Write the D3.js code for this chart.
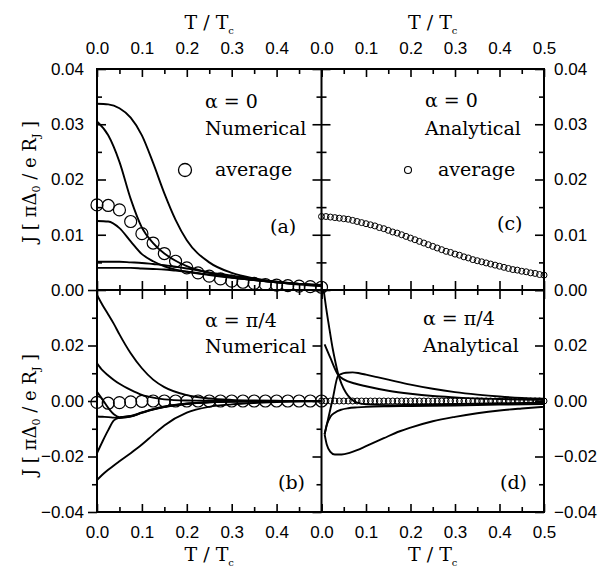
<!DOCTYPE html>
<html><head><meta charset="utf-8">
<script src="https://cdn.jsdelivr.net/npm/d3@7"></script>
<style>body{margin:0;background:#fff} svg{display:block}</style>
</head><body><svg id="c" width="603" height="578"></svg>
<script>
// ---------- data ----------
const xTickLabelsLeft = [0, 0.1, 0.2, 0.3, 0.4];
const xTickLabelsRight = [0, 0.1, 0.2, 0.3, 0.4, 0.5];
const yTickLabelsTop = [0, 0.01, 0.02, 0.03, 0.04];
const yTickLabelsBottom = [-0.04, -0.02, 0, 0.02];

// panel (a): alpha = 0, numerical
const tA = [0, 0.025, 0.05, 0.075, 0.1, 0.125, 0.15, 0.175, 0.2, 0.25, 0.3, 0.35, 0.4, 0.45, 0.5];
const a1 = [0.0337, 0.0336, 0.0329, 0.0312, 0.0280, 0.0230, 0.0175, 0.0127, 0.0090, 0.0050, 0.0031, 0.0021, 0.0015, 0.0011, 0.0008];
const a2 = [0.0305, 0.0280, 0.0232, 0.0165, 0.0113, 0.0085, 0.0066, 0.0053, 0.0043, 0.0031, 0.0023, 0.0018, 0.0014, 0.0011, 0.0009];
const a3 = [0.0125, 0.0124, 0.0112, 0.0088, 0.0065, 0.0052, 0.0043, 0.0037, 0.0033, 0.0027, 0.0022, 0.0018, 0.0014, 0.0011, 0.0009];
const a4 = [0.0051, 0.0051, 0.0051, 0.0050, 0.0049, 0.0047, 0.0045, 0.0042, 0.0039, 0.0032, 0.0026, 0.0020, 0.0015, 0.0011, 0.0008];
const a5 = [0.0040, 0.0040, 0.0040, 0.0040, 0.0039, 0.0038, 0.0037, 0.0035, 0.0033, 0.0028, 0.0023, 0.0018, 0.0014, 0.0010, 0.0007];
const avgNumT = [0, 0.025, 0.05, 0.075, 0.1, 0.125, 0.15, 0.175, 0.2, 0.225, 0.25, 0.275, 0.3, 0.325, 0.35, 0.375, 0.4, 0.425, 0.45, 0.475, 0.5];
const aAvg = [0.0154, 0.0153, 0.0145, 0.0124, 0.0102, 0.0085, 0.0066, 0.0052, 0.0040, 0.0031, 0.0025, 0.0020, 0.0016, 0.0014, 0.0012, 0.0010, 0.0009, 0.0008, 0.0007, 0.0006, 0.0005];

// panel (b): alpha = pi/4, numerical
const tB = [0, 0.0125, 0.025, 0.0375, 0.05, 0.075, 0.1, 0.125, 0.15, 0.2, 0.25, 0.3, 0.35, 0.4, 0.45, 0.5];
const b1 = [0.0382, 0.0345, 0.0312, 0.0278, 0.0240, 0.0172, 0.0118, 0.0077, 0.0050, 0.0021, 0.0009, 0.0004, 0.0002, 0.0001, 0.0000, 0.0000];
const b2 = [0.0136, 0.0110, 0.0092, 0.0076, 0.0062, 0.0040, 0.0022, 0.0012, 0.0006, 0.0002, 0.0001, 0.0000, 0.0000, 0.0000, 0.0000, 0.0000];
const b3 = [0.0033, 0.0005, -0.0025, -0.0048, -0.0058, -0.0055, -0.0042, -0.0030, -0.0021, -0.0010, -0.0005, -0.0002, -0.0001, 0.0000, 0.0000, 0.0000];
const b4 = [-0.0056, -0.0057, -0.0058, -0.0060, -0.0061, -0.0056, -0.0043, -0.0031, -0.0022, -0.0011, -0.0005, -0.0002, -0.0001, 0.0000, 0.0000, 0.0000];
const b5 = [-0.0188, -0.0145, -0.0105, -0.0070, -0.0060, -0.0054, -0.0041, -0.0029, -0.0020, -0.0009, -0.0004, -0.0002, -0.0001, 0.0000, 0.0000, 0.0000];
const b6 = [-0.0285, -0.0265, -0.0248, -0.0232, -0.0217, -0.0188, -0.0157, -0.0122, -0.0088, -0.0042, -0.0021, -0.0012, -0.0007, -0.0004, -0.0002, -0.0001];
const bAvg = [-0.0005, -0.0008, -0.0006, -0.0003, -0.0001, 0, 0, 0, 0, 0, 0, 0, 0, 0, 0, 0, 0, 0, 0, 0, 0];

// panels (c), (d): analytical averages
const avgAnaT = [0, 0.01, 0.02, 0.03, 0.04, 0.05, 0.06, 0.07, 0.08, 0.09, 0.1, 0.11, 0.12, 0.13, 0.14, 0.15, 0.16, 0.17, 0.18, 0.19, 0.2, 0.21, 0.22, 0.23, 0.24, 0.25, 0.26, 0.27, 0.28, 0.29, 0.3, 0.31, 0.32, 0.33, 0.34, 0.35, 0.36, 0.37, 0.38, 0.39, 0.4, 0.41, 0.42, 0.43, 0.44, 0.45, 0.46, 0.47, 0.48, 0.49, 0.5];
const cAvg = [0.0133, 0.0133, 0.0132, 0.0131, 0.0130, 0.0129, 0.0128, 0.0126, 0.0124, 0.0122, 0.0120, 0.0118, 0.0116, 0.0113, 0.0111, 0.0108, 0.0105, 0.0103, 0.0100, 0.0097, 0.0094, 0.0091, 0.0088, 0.0085, 0.0082, 0.0079, 0.0076, 0.0073, 0.0070, 0.0068, 0.0065, 0.0063, 0.0060, 0.0058, 0.0055, 0.0053, 0.0051, 0.0049, 0.0047, 0.0045, 0.0043, 0.0041, 0.0039, 0.0037, 0.0036, 0.0034, 0.0033, 0.0031, 0.0030, 0.0028, 0.0027];
const dAvg = [0, 0, 0, 0, 0, 0, 0, 0, 0, 0, 0, 0, 0, 0, 0, 0, 0, 0, 0, 0, 0, 0, 0, 0, 0, 0, 0, 0, 0, 0, 0, 0, 0, 0, 0, 0, 0, 0, 0, 0, 0, 0, 0, 0, 0, 0, 0, 0, 0, 0, 0];

// panel (d): alpha = pi/4, analytical
const d1T = [0.004, 0.01, 0.018, 0.025, 0.03, 0.037, 0.045, 0.055, 0.065, 0.08, 0.1, 0.15, 0.2, 0.3, 0.4, 0.5];
const d1V = [0.0410, 0.0340, 0.0258, 0.0190, 0.0150, 0.0100, 0.0062, 0.0030, 0.0010, -0.0006, -0.0012, -0.0015, -0.0014, -0.0011, -0.0008, -0.0006];
const d2T = [0.007, 0.02, 0.037, 0.05, 0.075, 0.1, 0.15, 0.2, 0.25, 0.3, 0.35, 0.4, 0.45, 0.5];
const d2V = [0.0204, 0.0155, 0.0095, 0.0078, 0.0063, 0.0053, 0.0037, 0.0026, 0.0018, 0.0013, 0.0009, 0.0007, 0.0005, 0.0004];
const d3T = [0.007, 0.015, 0.025, 0.037, 0.045, 0.055, 0.07, 0.085, 0.1, 0.125, 0.15, 0.2, 0.25, 0.3, 0.35, 0.4, 0.45, 0.5];
const d3V = [-0.0120, -0.0064, 0.0006, 0.0090, 0.0098, 0.0102, 0.0103, 0.0100, 0.0095, 0.0086, 0.0077, 0.0059, 0.0044, 0.0032, 0.0023, 0.0016, 0.0011, 0.0008];
const d5T = [0.007, 0.012, 0.02, 0.03, 0.045, 0.06, 0.08, 0.1, 0.15, 0.2, 0.3, 0.4, 0.5];
const d5V = [-0.0120, -0.0085, -0.0057, -0.0042, -0.0031, -0.0026, -0.0023, -0.0021, -0.0019, -0.0018, -0.0016, -0.0013, -0.0011];
const d6T = [0.007, 0.012, 0.02, 0.03, 0.045, 0.063, 0.08, 0.1, 0.14, 0.176, 0.2, 0.25, 0.3, 0.35, 0.4, 0.45, 0.5];
const d6V = [-0.0120, -0.0158, -0.0183, -0.0193, -0.0193, -0.0187, -0.0177, -0.0163, -0.0134, -0.0109, -0.0096, -0.0073, -0.0057, -0.0044, -0.0034, -0.0027, -0.0021];

// ---------- layout ----------
const X0 = 97, XM = 321.5, X1 = 544, Y0 = 69, YM = 290, Y1 = 512;
const svg = d3.select("#c");
const xL = d3.scaleLinear().domain([0, 0.5]).range([X0, XM]);
const xR = d3.scaleLinear().domain([0, 0.5]).range([XM, X1]);
const yT = d3.scaleLinear().domain([0, 0.04]).range([YM, Y0]);
const yB = d3.scaleLinear().domain([-0.04, 0.04]).range([Y1, YM]);

const numFont = "'Liberation Sans', Arial, sans-serif";
const serif = "'DejaVu Serif', serif";

// clip paths
const defs = svg.append("defs");
[["ca", X0, Y0, XM, YM], ["cc", XM, Y0, X1, YM], ["cb", X0, YM, XM, Y1], ["cd", XM, YM, X1, Y1]].forEach(([id, a, b, c, d]) => {
  defs.append("clipPath").attr("id", id).append("rect").attr("x", a).attr("y", b).attr("width", c - a).attr("height", d - b);
});

const majX = [0, 0.1, 0.2, 0.3, 0.4, 0.5], minX = [0.05, 0.15, 0.25, 0.35, 0.45];
const majYT = [0, 0.01, 0.02, 0.03, 0.04], minYT = [0.005, 0.015, 0.025, 0.035];
const majYB = [-0.04, -0.02, 0, 0.02, 0.04], minYB = [-0.03, -0.01, 0.01, 0.03];

function ticks(axisFn, scale, vals, size, tx, ty) {
  const g = svg.append("g").attr("transform", `translate(${tx},${ty})`)
    .call(axisFn(scale).tickValues(vals).tickSize(size).tickFormat(""));
  g.select(".domain").remove();
  g.selectAll("line").attr("stroke", "#000").attr("stroke-width", 1.6);
}
// x ticks
[xL, xR].forEach(x => {
  ticks(d3.axisBottom, x, majX, 8, 0, Y0); ticks(d3.axisBottom, x, minX, 5, 0, Y0);
  ticks(d3.axisTop, x, majX, 9, 0, YM); ticks(d3.axisTop, x, minX, 5, 0, YM);
  ticks(d3.axisBottom, x, majX, 9, 0, YM); ticks(d3.axisBottom, x, minX, 5, 0, YM);
  ticks(d3.axisTop, x, majX, 8, 0, Y1); ticks(d3.axisTop, x, minX, 5, 0, Y1);
});
// y ticks top panels (inward)
ticks(d3.axisRight, yT, majYT, 9, X0, 0); ticks(d3.axisRight, yT, minYT, 5, X0, 0);
ticks(d3.axisLeft, yT, majYT, 9, XM, 0); ticks(d3.axisLeft, yT, minYT, 5, XM, 0);
ticks(d3.axisRight, yT, majYT, 9, XM, 0); ticks(d3.axisRight, yT, minYT, 5, XM, 0);
ticks(d3.axisLeft, yT, majYT, 9, X1, 0); ticks(d3.axisLeft, yT, minYT, 5, X1, 0);
// y ticks bottom panels (pointing left)
[X0, XM, X1].forEach(xx => {
  ticks(d3.axisLeft, yB, majYB, 9, xx, 0); ticks(d3.axisLeft, yB, minYB, 5, xx, 0);
});

// frames
svg.append("g").selectAll("line").data([
  [X0, Y0, X1, Y0], [X0, YM, X1, YM], [X0, Y1, X1, Y1],
  [X0, Y0, X0, Y1], [XM, Y0, XM, Y1], [X1, Y0, X1, Y1]
]).join("line")
  .attr("x1", d => d[0]).attr("y1", d => d[1]).attr("x2", d => d[2]).attr("y2", d => d[3])
  .attr("stroke", "#000").attr("stroke-width", 2).attr("stroke-linecap", "square");

// tick labels
function labels(axisFn, scale, vals, fmt, pad, tx, ty) {
  const g = svg.append("g").attr("transform", `translate(${tx},${ty})`)
    .call(axisFn(scale).tickValues(vals).tickSize(0).tickPadding(pad).tickFormat(d3.format(fmt)));
  g.select(".domain").remove();
  g.selectAll("text").attr("font-family", numFont).attr("font-size", 17).attr("fill", "#000");
}
labels(d3.axisTop, xL, xTickLabelsLeft, ".1f", 15, 0, Y0);
labels(d3.axisTop, xR, xTickLabelsRight, ".1f", 15, 0, Y0);
labels(d3.axisBottom, xL, xTickLabelsLeft, ".1f", 14, 0, Y1);
labels(d3.axisBottom, xR, xTickLabelsRight, ".1f", 14, 0, Y1);
labels(d3.axisLeft, yT, yTickLabelsTop, ".2f", 13, X0, 0);
labels(d3.axisRight, yT, yTickLabelsTop, ".2f", 10, X1, 0);
labels(d3.axisLeft, yB, yTickLabelsBottom, ".2f", 13, X0, 0);
labels(d3.axisRight, yB, yTickLabelsBottom, ".2f", 10, X1, 0);

// curves
function curve(clip, x, y, T, V, w) {
  svg.append("path").attr("clip-path", `url(#${clip})`)
    .datum(T.map((t, i) => [t, V[i]]))
    .attr("d", d3.line().x(d => x(d[0])).y(d => y(d[1])).curve(d3.curveMonotoneX))
    .attr("fill", "none").attr("stroke", "#000").attr("stroke-width", w || 1.9);
}
[a1, a2, a3, a4, a5].forEach(v => curve("ca", xL, yT, tA, v));
[b1, b2, b3, b4, b5, b6].forEach(v => curve("cb", xL, yB, tB, v));
[[d1T, d1V], [d2T, d2V], [d3T, d3V], [d5T, d5V], [d6T, d6V]].forEach(([t, v]) => curve("cd", xR, yB, t, v));

function circles(x, y, T, V, r, sw) {
  svg.append("g").selectAll("circle").data(T.map((t, i) => [t, V[i]])).join("circle")
    .attr("cx", d => x(d[0])).attr("cy", d => y(d[1])).attr("r", r)
    .attr("fill", "none").attr("stroke", "#000").attr("stroke-width", sw);
}
circles(xL, yT, avgNumT, aAvg, 6, 1.2);
circles(xL, yB, avgNumT, bAvg, 6, 1.2);
circles(xR, yT, avgAnaT, cAvg, 3, 1);
circles(xR, yB, avgAnaT, dAvg, 3, 1);

// annotation text
function txt(x, y, s, size) {
  return svg.append("text").attr("x", x).attr("y", y).attr("font-family", serif)
    .attr("font-size", size || 19).attr("fill", "#000").text(s);
}
txt(205, 108, "α = 0"); txt(205, 135, "Numerical"); txt(215, 176, "average"); txt(270, 233, "(a)");
txt(425, 107, "α = 0"); txt(425, 135, "Analytical"); txt(438, 176, "average"); txt(497, 230, "(c)");
txt(205, 327, "α = π/4"); txt(205, 353, "Numerical"); txt(278, 489, "(b)");
txt(423, 325, "α = π/4"); txt(423, 352, "Analytical"); txt(500, 489, "(d)");
svg.append("circle").attr("cx", 185).attr("cy", 170).attr("r", 6.5).attr("fill", "none").attr("stroke", "#000").attr("stroke-width", 1.3);
svg.append("circle").attr("cx", 408).attr("cy", 170).attr("r", 3.5).attr("fill", "none").attr("stroke", "#000").attr("stroke-width", 1.1);

// axis titles
function tTitle(x, y) {
  const t = svg.append("text").attr("x", x).attr("y", y).attr("text-anchor", "middle")
    .attr("font-family", serif).attr("font-size", 19).attr("fill", "#000");
  t.append("tspan").text("T / T");
  t.append("tspan").attr("font-size", 10).attr("dy", 5).text("c");
}
tTitle((X0 + XM) / 2, 29); tTitle((XM + X1) / 2, 29); tTitle((X0 + XM) / 2, 561); tTitle((XM + X1) / 2, 561);

function jTitle(cy) {
  const t = svg.append("text").attr("transform", `translate(36,${cy}) rotate(-90)`)
    .attr("text-anchor", "middle").attr("font-family", serif).attr("font-size", 18).attr("fill", "#000");
  t.append("tspan").text("J [ πΔ");
  t.append("tspan").attr("font-size", 11).attr("dy", 4).text("0");
  t.append("tspan").attr("dy", -4).text(" / e R");
  t.append("tspan").attr("font-size", 11).attr("dy", 4).text("J");
  t.append("tspan").attr("dy", -4).text(" ]");
}
jTitle(182); jTitle(415);
</script></body></html>
